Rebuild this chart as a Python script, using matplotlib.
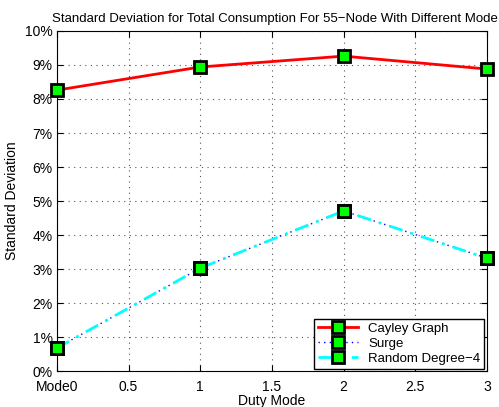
import numpy as np
import matplotlib.pyplot as plt
from matplotlib.ticker import FuncFormatter

plt.rcParams['font.family'] = ['Liberation Sans', 'DejaVu Sans']

# data
modes = [0, 1, 2, 3]
cayley = [8.26, 8.94, 9.26, 8.88]
surge = [0.68, 3.03, 4.71, 3.32]
random4 = [0.68, 3.03, 4.71, 3.32]
xticks = [0, 0.5, 1, 1.5, 2, 2.5, 3]
xticklabels = ['Mode0', '0.5', '1', '1.5', '2', '2.5', '3']

fig = plt.figure(figsize=(4.99, 4.07), dpi=100)
ax = fig.add_axes([0.114, 0.088, 0.862, 0.836])

mk = dict(marker='s', markersize=8, markerfacecolor='#00ff00',
          markeredgecolor='k', markeredgewidth=2, clip_on=False, zorder=5)
ax.plot(modes, cayley, color='red', lw=2, ls='-', label='Cayley Graph', **mk)
ax.plot(modes, surge, color='blue', lw=1, ls=(0, (1, 3)), label='Surge', **mk)
ax.plot(modes, random4, color='cyan', lw=2, ls=(0, (5, 3, 1, 3)),
        label='Random Degree\u22124', **mk)

ax.set_xlim(0, 3)
ax.set_ylim(0, 10)
ax.set_xticks(xticks)
ax.set_xticklabels(xticklabels)
ax.set_yticks(np.arange(0, 11))
ax.yaxis.set_major_formatter(FuncFormatter(lambda v, p: '%d%%' % v))
ax.grid(True, ls=(0, (1, 4)), color='#555555', lw=0.8)
ax.tick_params(direction='in', labelsize=10, top=True, right=True, length=4)
ax.tick_params(axis='x', pad=6)
ax.tick_params(axis='y', pad=3)

ax.set_xlabel('Duty Mode', fontsize=10, labelpad=0)
ax.set_ylabel('Standard Deviation', fontsize=10, labelpad=4)
fig.text(0.998, 0.945,
         'Standard Deviation for Total Consumption For 55\u2212Node With Different Mode',
         fontsize=9.5, ha='right', va='baseline')

leg = ax.legend(loc='lower right', fontsize=9.5, fancybox=False, framealpha=1,
                edgecolor='k', borderaxespad=0.2, handlelength=3,
                labelspacing=0.2, borderpad=0.3)
leg.get_frame().set_linewidth(1)

fig.savefig('out.png', dpi=100)
